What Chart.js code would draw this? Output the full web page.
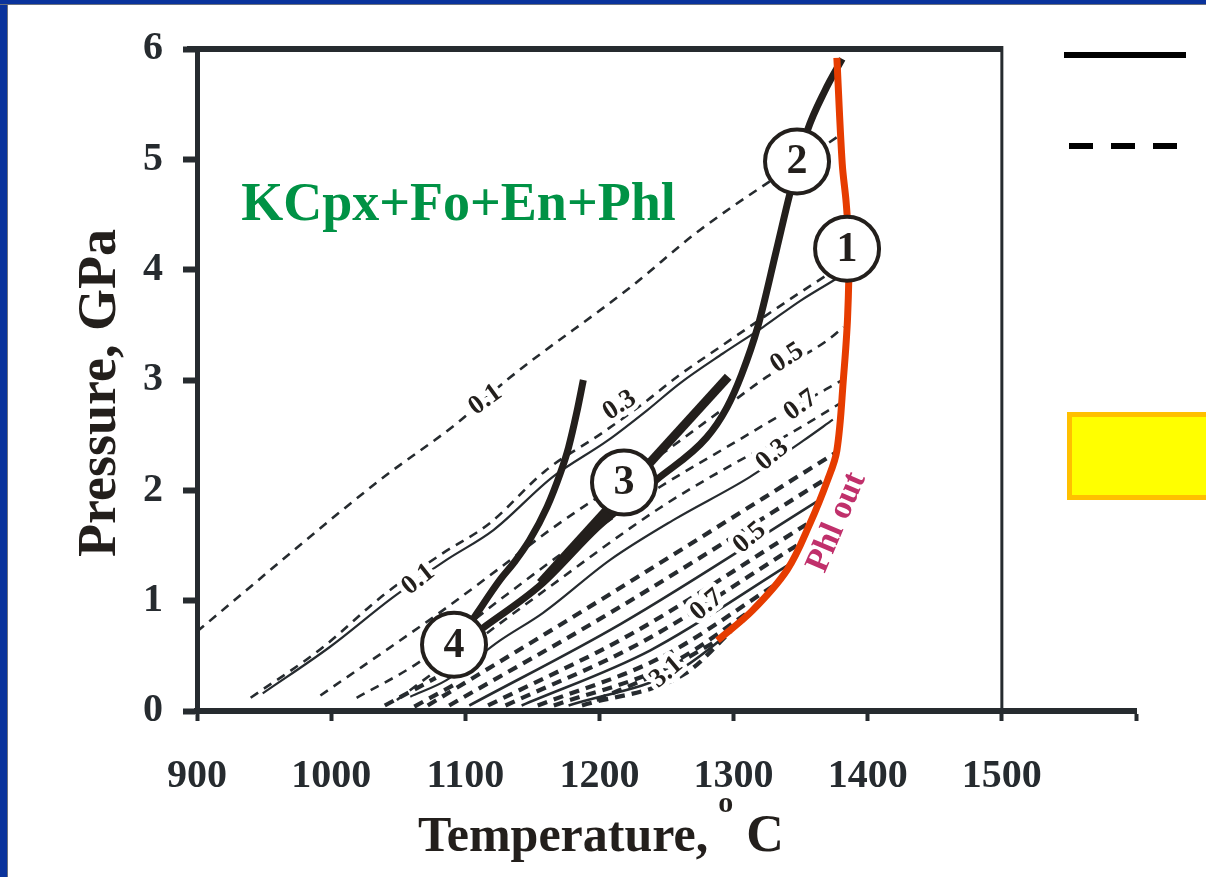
<!DOCTYPE html>
<html>
<head>
<meta charset="utf-8">
<script src="https://cdn.jsdelivr.net/npm/chart.js@4.4.0/dist/chart.umd.min.js"></script>
<style>
body { margin: 0; background: #fff; overflow: hidden; }
#wrap { position: relative; width: 1206px; height: 877px; }
#frameL { position: absolute; left: 0; top: 0; width: 7px; height: 877px; background: #0a339c; border-right: 1px solid #6b7280; }
#frameT { position: absolute; left: 0; top: 0; width: 1206px; height: 4px; background: #0a339c; border-bottom: 1px solid #6b7280; }
</style>
</head>
<body>
<div id="wrap">
	<canvas id="phaseChart" width="1206" height="877"></canvas>
	<div id="frameL"></div>
	<div id="frameT"></div>
</div>
<script>
// axis ticks
const tempTicks = [900, 1000, 1100, 1200, 1300, 1400, 1500, 1600];
const pressTicks = [0, 1, 2, 3, 4, 5, 6];

// thick reaction curves, [T, P]
const curveFour = [[1103, 0.78], [1109, 0.89], [1126, 1.19], [1136, 1.34], [1148, 1.55], [1161, 1.85], [1171, 2.16], [1177, 2.39], [1183, 2.70], [1188, 3.00]];
const curveTwo = [[1113, 0.75], [1156, 1.14], [1200, 1.68], [1243, 2.10], [1280, 2.48], [1295, 2.75], [1306, 3.05], [1318, 3.48], [1332, 4.18], [1342, 4.69], [1355, 5.26], [1368, 5.62], [1381, 5.91]];
const lineThree = [[1156, 1.16], [1296, 3.03]];
const phlOut = [[1288, 0.64], [1314, 0.91], [1340, 1.28], [1357, 1.70], [1370, 2.09], [1377, 2.36], [1382, 3.03], [1385, 3.57], [1386, 4.18], [1384, 4.60], [1381, 4.96], [1377, 5.92]];

// upper isopleths
const isoA = [[900, 0.72], [1036, 2.09], [1094, 2.61], [1131, 3.00], [1223, 3.84], [1275, 4.36], [1377, 5.20]];
const isoB = [[949, 0.16], [999, 0.58], [1046, 1.03], [1086, 1.37], [1121, 1.64], [1165, 2.12], [1206, 2.45], [1236, 2.73], [1260, 2.97], [1292, 3.24], [1322, 3.48], [1350, 3.72], [1377, 3.92]];
const isoB2 = [[940, 0.12], [992, 0.56], [1040, 1.06], [1082, 1.42], [1118, 1.70], [1160, 2.18], [1202, 2.52], [1234, 2.80], [1258, 3.03], [1290, 3.30], [1320, 3.55], [1348, 3.78], [1372, 3.97]];
const isoC = [[992, 0.14], [1083, 0.91], [1124, 1.28], [1163, 1.64], [1243, 2.30], [1288, 2.70], [1325, 3.03], [1370, 3.36], [1382, 3.48]];
const isoD = [[1019, 0.12], [1064, 0.43], [1126, 1.01], [1186, 1.55], [1245, 2.03], [1303, 2.45], [1332, 2.66], [1387, 3.04]];
const isoD2 = [[1049, 0.10], [1100, 0.56], [1160, 1.10], [1245, 1.84], [1300, 2.24], [1340, 2.50], [1385, 2.83]];
const isoE = [[1059, 0.13], [1086, 0.28], [1126, 0.64], [1158, 0.89], [1208, 1.37], [1255, 1.73], [1312, 2.12], [1352, 2.45], [1374, 2.64]];
const isoS1 = [[1040, 0.05], [1078, 0.30]];
const isoS2 = [[1062, 0.04], [1092, 0.24]];

// dense lower isopleths, from the axis up to Phl out
const isoH1 = [[1072, 0.05], [1200, 1.00], [1376, 2.34]];
const isoH2 = [[1088, 0.05], [1208, 0.89], [1371, 2.12]];
const isoH3 = [[1103, 0.05], [1216, 0.79], [1365, 1.92]];
const isoH4 = [[1117, 0.05], [1224, 0.70], [1358, 1.72]];
const isoH5 = [[1130, 0.05], [1231, 0.62], [1351, 1.53]];
const isoH6 = [[1142, 0.05], [1238, 0.55], [1343, 1.34]];
const isoH7 = [[1154, 0.05], [1245, 0.48], [1333, 1.16]];
const isoH8 = [[1166, 0.05], [1252, 0.42], [1321, 0.98]];
const isoH9 = [[1177, 0.05], [1259, 0.37], [1308, 0.82]];
const isoH10 = [[1187, 0.05], [1264, 0.34], [1298, 0.72]];
const isoH11 = [[1198, 0.10], [1250, 0.38], [1288, 0.64]];

// isopleth labels
const isoLabels = ["0.1", "0.3", "0.5", "0.7", "0.3", "0.1", "0.5", "0.7", "3.1"];
const isoLabelT = [1115, 1215, 1340, 1350, 1329, 1065, 1312, 1280, 1250];
const isoLabelP = [2.82, 2.77, 3.20, 2.77, 2.32, 1.19, 1.57, 0.96, 0.35];
const isoLabelAngle = [-36, -33, -33, -36, -40, -38, -40, -40, -40];

// numbered points
const circleNum = ["1", "2", "3", "4"];
const circleT = [1384.6, 1347.3, 1218.3, 1091.6];
const circleP = [4.19, 4.98, 2.07, 0.60];

const ink = "#262b2f";
const serif = "'Liberation Serif', 'Times New Roman', serif";

function pts(arr) {
	return arr.map(p => ({ x: p[0], y: p[1] }));
}

function thin(arr, dashed) {
	return {
		data: pts(arr),
		borderColor: ink,
		borderWidth: dashed ? 2.6 : 2.2,
		borderDash: dashed ? [9, 7] : [],
		pointRadius: 0,
		cubicInterpolationMode: "monotone",
		order: 10
	};
}

function hatch(arr, dashed) {
	return {
		data: pts(arr),
		borderColor: ink,
		borderWidth: dashed ? 4.2 : 2.6,
		borderDash: dashed ? [10, 7] : [],
		pointRadius: 0,
		cubicInterpolationMode: "monotone",
		order: 10
	};
}

const datasets = [
	{
		data: circleT.map((t, i) => ({ x: t, y: circleP[i] })),
		showLine: false,
		pointRadius: 32,
		pointBackgroundColor: "#ffffff",
		pointBorderColor: "#231f1c",
		pointBorderWidth: 4,
		order: 0
	},
	{ data: pts(phlOut), borderColor: "#e63c00", borderWidth: 7, pointRadius: 0, tension: 0.35, order: 1 },
	{ data: pts(curveTwo), borderColor: "#231f1c", borderWidth: 7, pointRadius: 0, cubicInterpolationMode: "monotone", order: 2 },
	{ data: pts(curveFour), borderColor: "#231f1c", borderWidth: 7, pointRadius: 0, cubicInterpolationMode: "monotone", order: 2 },
	{ data: pts(lineThree), borderColor: "#231f1c", borderWidth: 9, pointRadius: 0, borderCapStyle: "butt", order: 2 },
	thin(isoA, true),
	thin(isoB, false),
	thin(isoB2, true),
	thin(isoC, true),
	thin(isoD, true),
	thin(isoD2, true),
	thin(isoE, false),
	hatch(isoS1, true),
	hatch(isoS2, true),
	hatch(isoH1, true),
	hatch(isoH2, true),
	hatch(isoH3, false),
	hatch(isoH4, true),
	hatch(isoH5, true),
	hatch(isoH6, false),
	hatch(isoH7, true),
	hatch(isoH8, true),
	hatch(isoH9, false),
	hatch(isoH10, true),
	hatch(isoH11, true)
];

// texts, box and legend marks
const decorations = {
	id: "decorations",
	afterDatasetsDraw(chart) {
		const ctx = chart.ctx;
		const xs = chart.scales.x;
		const ys = chart.scales.y;
		ctx.save();

		// isopleth labels with white halo
		ctx.font = "bold 27px " + serif;
		ctx.textAlign = "center";
		ctx.textBaseline = "middle";
		isoLabels.forEach((txt, i) => {
			ctx.save();
			ctx.translate(xs.getPixelForValue(isoLabelT[i]), ys.getPixelForValue(isoLabelP[i]));
			ctx.rotate(isoLabelAngle[i] * Math.PI / 180);
			ctx.lineWidth = 10;
			ctx.strokeStyle = "#ffffff";
			ctx.lineJoin = "round";
			ctx.strokeText(txt, 0, 0);
			ctx.fillStyle = "#231f1c";
			ctx.fillText(txt, 0, 0);
			ctx.restore();
		});

		// numbers in circles
		ctx.font = "bold 42px " + serif;
		ctx.fillStyle = "#231f1c";
		circleNum.forEach((n, i) => {
			ctx.fillText(n, xs.getPixelForValue(circleT[i]), ys.getPixelForValue(circleP[i]) + 1);
		});

		// field name
		ctx.font = "bold 54px " + serif;
		ctx.fillStyle = "#009245";
		ctx.textAlign = "left";
		ctx.textBaseline = "alphabetic";
		ctx.fillText("KCpx+Fo+En+Phl", xs.getPixelForValue(933), ys.getPixelForValue(4.45));

		// Phl out
		ctx.save();
		ctx.translate(xs.getPixelForValue(1377), ys.getPixelForValue(1.71));
		ctx.rotate(-67 * Math.PI / 180);
		ctx.font = "bold 34px " + serif;
		ctx.fillStyle = "#c0306b";
		ctx.textAlign = "center";
		ctx.textBaseline = "middle";
		ctx.fillText("Phl out", 0, 0);
		ctx.restore();

		ctx.restore();
	},
	afterDraw(chart) {
		const ctx = chart.ctx;
		const xs = chart.scales.x;
		const ys = chart.scales.y;
		ctx.save();

		// box top and right side
		ctx.strokeStyle = ink;
		ctx.lineWidth = 6;
		ctx.beginPath();
		ctx.moveTo(xs.getPixelForValue(900) - 10, ys.getPixelForValue(6));
		ctx.lineTo(xs.getPixelForValue(1500), ys.getPixelForValue(6));
		ctx.stroke();
		ctx.lineWidth = 3;
		ctx.beginPath();
		ctx.moveTo(xs.getPixelForValue(1500), ys.getPixelForValue(6) - 3);
		ctx.lineTo(xs.getPixelForValue(1500), ys.getPixelForValue(0));
		ctx.stroke();

		// axis titles
		ctx.fillStyle = "#231f1c";
		ctx.textBaseline = "alphabetic";
		ctx.font = "bold 50px " + serif;
		ctx.textAlign = "left";
		ctx.fillText("Temperature,", 418, 851);
		const w = ctx.measureText("Temperature,").width;
		ctx.font = "bold 30px " + serif;
		ctx.fillText("o", 418 + w + 10, 812);
		ctx.font = "bold 52px " + serif;
		ctx.fillText("C", 418 + w + 38, 851);

		ctx.save();
		ctx.translate(115, 393);
		ctx.rotate(-Math.PI / 2);
		ctx.font = "bold 54px " + serif;
		ctx.textAlign = "center";
		ctx.fillText("Pressure, GPa", 0, 0);
		ctx.restore();

		// legend marks on the right
		ctx.strokeStyle = "#000000";
		ctx.lineWidth = 6;
		ctx.beginPath();
		ctx.moveTo(1064, 55);
		ctx.lineTo(1186, 55);
		ctx.stroke();
		ctx.setLineDash([24, 18]);
		ctx.beginPath();
		ctx.moveTo(1069, 146);
		ctx.lineTo(1178, 146);
		ctx.stroke();
		ctx.setLineDash([]);
		ctx.fillStyle = "#ffff00";
		ctx.fillRect(1067, 412, 150, 88);
		ctx.strokeStyle = "#ffc000";
		ctx.lineWidth = 5;
		ctx.strokeRect(1069.5, 414.5, 150, 83);

		ctx.restore();
	}
};

const chart = new Chart(document.getElementById("phaseChart").getContext("2d"), {
	type: "line",
	data: { datasets: datasets },
	options: {
		responsive: false,
		animation: false,
		devicePixelRatio: 1,
		layout: { padding: { top: 49, right: 70, left: 0, bottom: 0 } },
		plugins: { legend: { display: false }, tooltip: { enabled: false } },
		scales: {
			x: {
				type: "linear",
				min: 900,
				max: 1600,
				afterBuildTicks: s => { s.ticks = tempTicks.map(v => ({ value: v })); },
				afterFit: s => { s.height = 166; },
				ticks: {
					callback: v => (v === 1600 ? "" : v),
					font: { family: serif, size: 40, weight: "bold" },
					color: ink,
					padding: 32,
					maxRotation: 0
				},
				grid: { drawOnChartArea: false, drawTicks: true, tickLength: 10, tickWidth: 4, tickColor: ink },
				border: { display: true, width: 6, color: ink }
			},
			y: {
				type: "linear",
				min: 0,
				max: 6,
				afterBuildTicks: s => { s.ticks = pressTicks.map(v => ({ value: v })); },
				afterFit: s => { s.width = 197; },
				ticks: {
					font: { family: serif, size: 40, weight: "bold" },
					color: ink,
					padding: 20
				},
				grid: { drawOnChartArea: false, drawTicks: true, tickLength: 14, tickWidth: 6, tickColor: ink },
				border: { display: true, width: 5, color: ink }
			}
		}
	},
	plugins: [decorations]
});
</script>
</body>
</html>
